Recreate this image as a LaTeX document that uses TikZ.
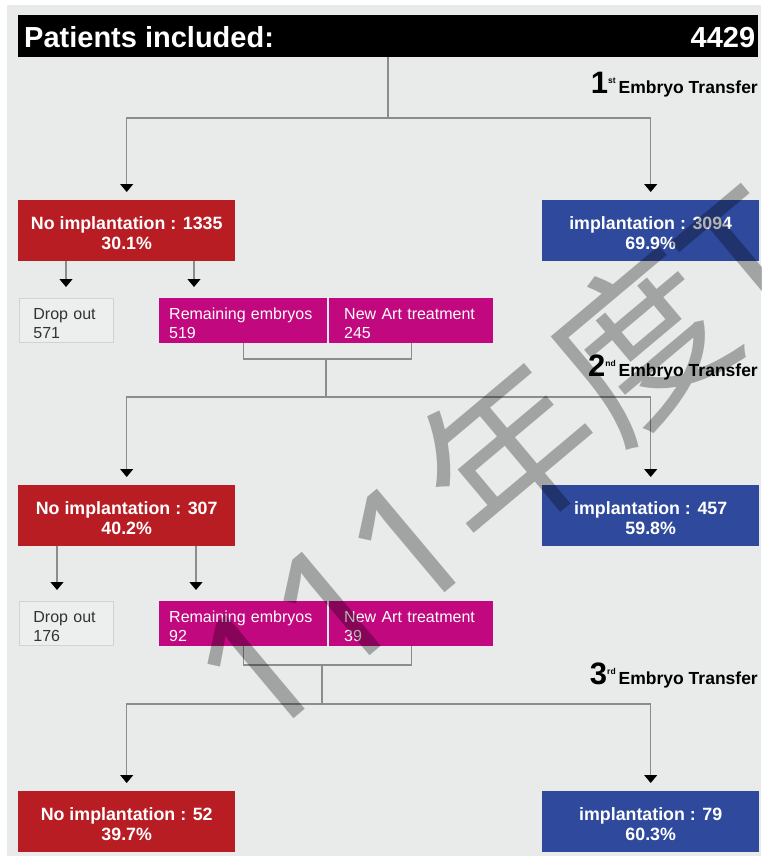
\documentclass[tikz,border=0pt]{standalone}
\usepackage{fontspec}
\setmainfont{Liberation Sans}
\newfontfamily\cjkfont{Noto Sans CJK TC}
\newfontfamily\wmlatin{Noto Sans}
\usetikzlibrary{arrows.meta,calc}
\definecolor{bgc}{HTML}{E9EBEA}
\definecolor{redc}{HTML}{B81D24}
\definecolor{bluec}{HTML}{2F4A9D}
\definecolor{magc}{HTML}{C1087F}
\definecolor{linec}{HTML}{8C8C8C}
\definecolor{dropc}{HTML}{EDEEEE}
\definecolor{dropb}{HTML}{D2D2D2}
\definecolor{dtext}{HTML}{333333}
\newcommand{\upA}{\rule{0pt}{18pt}}
\newcommand{\upB}{\rule{0pt}{17pt}}
\begin{document}
\begin{tikzpicture}[x=1pt,y=-1pt,
  outcome/.style={minimum width=217pt,minimum height=61pt,inner sep=0pt,align=center,text=white,
    font=\fontsize{17.8}{20}\selectfont\bfseries,anchor=north west},
  nobox/.style={outcome,fill=redc},
  yesbox/.style={outcome,fill=bluec},
  magbox/.style={fill=magc,text=white,minimum height=45pt,text width=148pt,inner xsep=10pt,inner ysep=0pt,
    align=left,anchor=north west,font=\fontsize{16}{19}\selectfont},
  artbox/.style={magbox,text width=134pt,inner xsep=15pt},
  dropbox/.style={fill=dropc,draw=dropb,line width=0.8pt,text=dtext,minimum height=44pt,text width=66pt,
    inner xsep=14pt,inner ysep=0pt,align=left,anchor=north west,font=\fontsize{16}{19}\selectfont},
  conn/.style={draw=linec,line width=1.2pt},
  arr/.style={conn,-{Triangle[width=13pt,length=8pt,color=black]},shorten >=8pt},
  arrs/.style={arr,shorten >=11pt},
  etlabel/.style={anchor=base east,inner sep=0pt,font=\fontsize{17.5}{17.5}\selectfont\bfseries},
]
% background
\fill[white] (0,0) rectangle (761,856);
\fill[bgc] (7,5) rectangle (761,856);
\useasboundingbox (0,0) rectangle (761,856);

% header
\node[fill=black,minimum width=740pt,minimum height=42pt,inner sep=0pt,anchor=north west] (hdr) at (18,15) {};
\node[anchor=west,inner sep=0pt,text=white,font=\fontsize{29}{29}\selectfont\bfseries] (ptxt) at ($(hdr.west)+(6,1)$) {Patients included:};
\node[anchor=east,inner sep=0pt,text=white,font=\fontsize{29}{29}\selectfont\bfseries] (ntxt) at ($(hdr.east)+(-3,1)$) {4429};

% transfer labels
\node[etlabel] (et1) at (758,94) {{\fontsize{31}{31}\selectfont 1}\raisebox{10pt}{\fontsize{8.5}{8.5}\selectfont st}\hspace{3pt}Embryo Transfer};
\node[etlabel] (et2) at (758,376) {{\fontsize{31}{31}\selectfont 2}\raisebox{10pt}{\fontsize{8.5}{8.5}\selectfont nd}\hspace{3pt}Embryo Transfer};
\node[etlabel] (et3) at (758,684) {{\fontsize{31}{31}\selectfont 3}\raisebox{10pt}{\fontsize{8.5}{8.5}\selectfont rd}\hspace{3pt}Embryo Transfer};

% row 1
\node[nobox] (no1) at (18,200) {\upA No implantation : 1335\\30.1\%};
\node[yesbox] (yes1) at (542,200) {\upA implantation : 3094\\69.9\%};
\node[dropbox] (drop1) at (19,298) {\upB Drop out\\571};
\node[magbox] (rem1) at (159,298) {\upB Remaining embryos\\519};
\node[artbox] (art1) at (329,298) {\upB New Art treatment\\245};

% row 2
\node[nobox] (no2) at (18,485) {\upA No implantation : 307\\40.2\%};
\node[yesbox] (yes2) at (542,485) {\upA implantation : 457\\59.8\%};
\node[dropbox] (drop2) at (19,601) {\upB Drop out\\176};
\node[magbox] (rem2) at (159,601) {\upB Remaining embryos\\92};
\node[artbox] (art2) at (329,601) {\upB New Art treatment\\39};

% row 3
\node[nobox] (no3) at (18,791) {\upA No implantation : 52\\39.7\%};
\node[yesbox] (yes3) at (542,791) {\upA implantation : 79\\60.3\%};

% connectors level 1
\coordinate (j1) at (388,118);
\draw[conn] (hdr.south -| j1) -- (j1);
\draw[arr] (j1) -| (no1.north);
\draw[arr] (j1) -| (yes1.north);

\coordinate (a1l) at (66,0);
\coordinate (a1r) at (194,0);
\draw[arrs] (no1.south -| a1l) -- (drop1.north -| a1l);
\draw[arrs] (no1.south -| a1r) -- (rem1.north -| a1r);

\coordinate (jb1) at (326,359);
\coordinate (j2) at (326,397);
\draw[conn] (rem1.south) |- (jb1) -| (art1.south);
\draw[conn] (jb1) -- (j2);
\draw[arr] (j2) -| (no2.north);
\draw[arr] (j2) -| (yes2.north);

% connectors level 2
\coordinate (a2l) at (57,0);
\coordinate (a2r) at (196,0);
\draw[arrs] (no2.south -| a2l) -- (drop2.north -| a2l);
\draw[arrs] (no2.south -| a2r) -- (rem2.north -| a2r);

\coordinate (jb2) at (322,665);
\coordinate (j3) at (322,704);
\draw[conn] (rem2.south) |- (jb2) -| (art2.south);
\draw[conn] (jb2) -- (j3);
\draw[arr] (j3) -| (no3.north);
\draw[arr] (j3) -| (yes3.north);

% watermark
\begin{scope}
\clip (0,0) rectangle (761,856);
\node[rotate=40,text=black,text opacity=0.3,inner sep=0pt,font=\fontsize{172}{172}\selectfont] (wm) at (498,462) {{\wmlatin 111}{\cjkfont 年度}{\wmlatin T}};
\end{scope}
\end{tikzpicture}
\end{document}
